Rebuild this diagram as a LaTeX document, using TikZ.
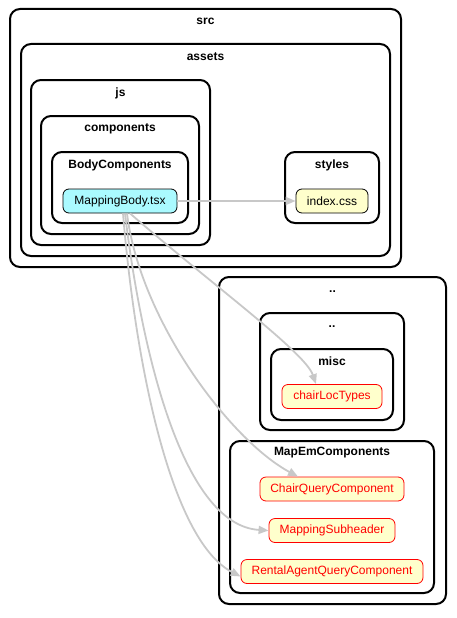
\documentclass[tikz,border=0pt]{standalone}
\usepackage{fontspec}
\setmainfont{Liberation Sans}
\usetikzlibrary{arrows.meta}
\definecolor{tsxfill}{HTML}{AAFAFF}
\definecolor{yfill}{HTML}{FFFFCC}
\definecolor{edgegray}{HTML}{C8C8C8}
\begin{document}
\begin{tikzpicture}[x=1pt,y=-1pt,
  cluster/.style={draw=black,line width=2pt,rounded corners=10pt},
  clabel/.style={font=\bfseries\fontsize{12}{14}\selectfont,inner sep=0pt},
  filebox/.style={draw=black,line width=0.8pt,rounded corners=6pt,inner sep=0pt,font=\fontsize{12}{14}\selectfont,minimum height=24pt},
  rednode/.style={filebox,draw=red,text=red,fill=yfill},
  dep/.style={draw=edgegray,line width=1.8pt,-{Triangle[length=10pt,width=8pt]}}
]
\useasboundingbox (0,0) rectangle (456,618);
% clusters
\draw[cluster] (10,9) rectangle (401,267);
\node[clabel] (lsrc) at (205.5,21) {src};
\draw[cluster] (21,44) rectangle (390,256);
\node[clabel] (lassets) at (205.5,57) {assets};
\draw[cluster] (31,80) rectangle (210,245);
\node[clabel] (ljs) at (120.5,93) {js};
\draw[cluster] (41,116) rectangle (199,234);
\node[clabel] (lcomp) at (120,129) {components};
\draw[cluster] (52,152) rectangle (188,223);
\node[clabel] (lbody) at (120,165) {BodyComponents};
\draw[cluster] (285,152) rectangle (379,223);
\node[clabel] (lstyles) at (332,165) {styles};
\draw[cluster] (219,277) rectangle (446,604);
\node[clabel] (ldd1) at (332.5,292) {..};
\draw[cluster] (260,313) rectangle (404,430);
\node[clabel] (ldd2) at (332,327) {..};
\draw[cluster] (271,349) rectangle (393,420);
\node[clabel] (lmisc) at (332,361) {misc};
\draw[cluster] (230,441) rectangle (434,593);
\node[clabel] (lmapem) at (332,453) {MapEmComponents};
% file nodes
\node[filebox,fill=tsxfill,minimum width=114pt] (mb) at (120,201) {MappingBody.tsx};
\node[filebox,fill=yfill,minimum width=72pt] (css) at (332,201) {index.css};
\node[rednode,minimum width=100pt] (clt) at (332,396.5) {chairLocTypes};
\node[rednode,minimum width=144pt] (cqc) at (332,489) {ChairQueryComponent};
\node[rednode,minimum width=126pt] (msh) at (332,530.5) {MappingSubheader};
\node[rednode,minimum width=182pt] (raq) at (332,571.5) {RentalAgentQueryComponent};
% dependencies
\draw[dep] (mb.east) -- (css.west);
\draw[dep] ([xshift=10pt]mb.south) .. controls (210,283) and (305,352) .. ([xshift=-16pt]clt.north);
\draw[dep] ([xshift=7pt]mb.south) .. controls (140,320) and (230,440) .. ([xshift=-34pt]cqc.north);
\draw[dep] ([xshift=5pt]mb.south) .. controls (140,340) and (180,525) .. (msh.west);
\draw[dep] ([xshift=3pt]mb.south) .. controls (135,360) and (170,540) .. ([yshift=-5pt]raq.west);
\end{tikzpicture}
\end{document}
